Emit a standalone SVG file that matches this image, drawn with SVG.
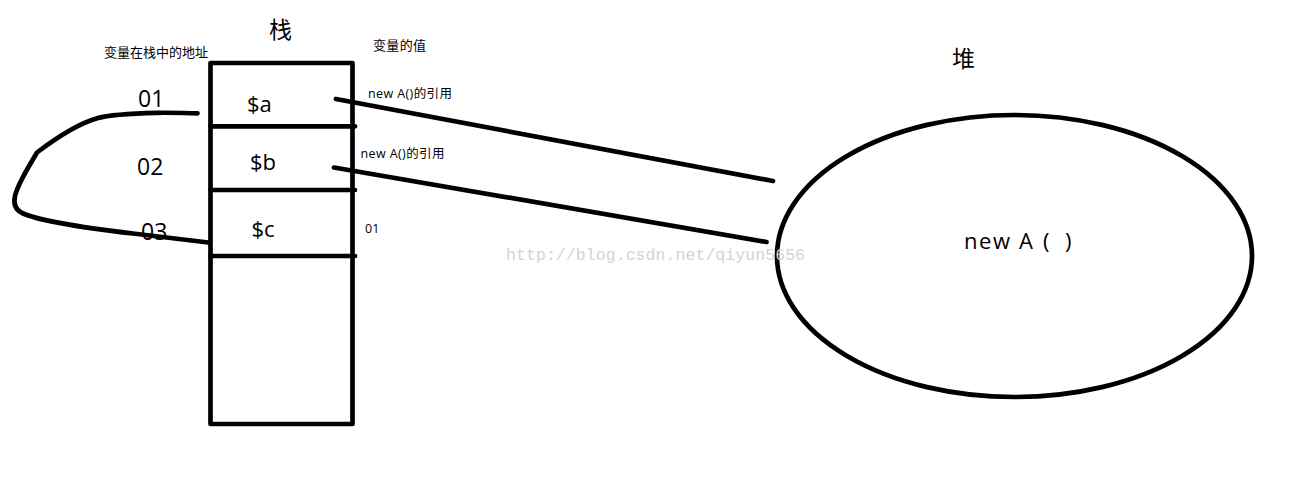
<svg xmlns="http://www.w3.org/2000/svg" width="1292" height="486" viewBox="0 0 1292 486">
<style>
.ln{fill:none;stroke:#000;stroke-width:4.7;stroke-linecap:round;stroke-linejoin:round}
.cj{font-family:"Noto Sans CJK SC","Noto Sans",sans-serif;fill:#000}
.lt{font-family:"Open Sans","Noto Sans","Noto Sans CJK SC",sans-serif;fill:#000}
.wm{font-family:"Liberation Mono",monospace;fill:#d4d4d4;font-size:16.5px}
</style>
<rect width="1292" height="486" fill="#fff"/>
<g id="titles">
<text class="cj" x="269" y="38" font-size="23">栈</text>
<text class="cj" x="952" y="67" font-size="23">堆</text>
<text class="cj" x="104" y="57" font-size="13" textLength="104">变量在栈中的地址</text>
<text class="cj" x="373" y="50" font-size="13" textLength="53">变量的值</text>
</g>
<g id="stack">
<rect x="210.5" y="63" width="142" height="361" class="ln" stroke-linecap="butt" stroke-linejoin="miter"/>
<line x1="210.5" y1="126.3" x2="355" y2="126.3" class="ln"/>
<line x1="210.5" y1="190" x2="355" y2="190" class="ln"/>
<line x1="210.5" y1="256" x2="355" y2="256" class="ln"/>
</g>
<g id="cell-a">
<text class="lt" x="247" y="111.5" font-size="22">$a</text>
<text class="lt" x="138" y="107" font-size="23">01</text>
<text class="lt" x="368" y="98" font-size="12.5" textLength="84">new A()的引用</text>
</g>
<g id="cell-b">
<text class="lt" x="250" y="170" font-size="22">$b</text>
<text class="lt" x="137" y="175" font-size="23">02</text>
<text class="lt" x="360.5" y="158" font-size="12.5" textLength="84">new A()的引用</text>
</g>
<g id="cell-c">
<text class="lt" x="251.5" y="236.5" font-size="22">$c</text>
<text class="lt" x="141" y="240" font-size="23">03</text>
<text class="lt" x="365" y="232.5" font-size="12.5">01</text>
</g>
<g id="heap">
<ellipse cx="1014.5" cy="256" rx="237.5" ry="141" class="ln"/>
<text class="lt" y="249" font-size="22"><tspan x="964" textLength="69">new A</tspan><tspan x="1043">(</tspan><tspan x="1065">)</tspan></text>
</g>
<g id="connectors">
<line x1="336" y1="99" x2="773" y2="181" class="ln"/>
<line x1="334" y1="167.5" x2="766.5" y2="242" class="ln"/>
<path d="M197.5,113.3 C180,113 170,112.5 156.7,112.8 C130,113.5 110,114.5 98,118 C80,123 60,135 37,152.5 C28,168 18,183 15,196 C13,205 16,210 22,213 C35,219 60,225 133,233.5 C160,236.5 185,239.5 208.3,242.5" class="ln"/>
</g>
<text class="wm" x="506" y="260" textLength="299">http://blog.csdn.net/qiyun5656</text>
</svg>
